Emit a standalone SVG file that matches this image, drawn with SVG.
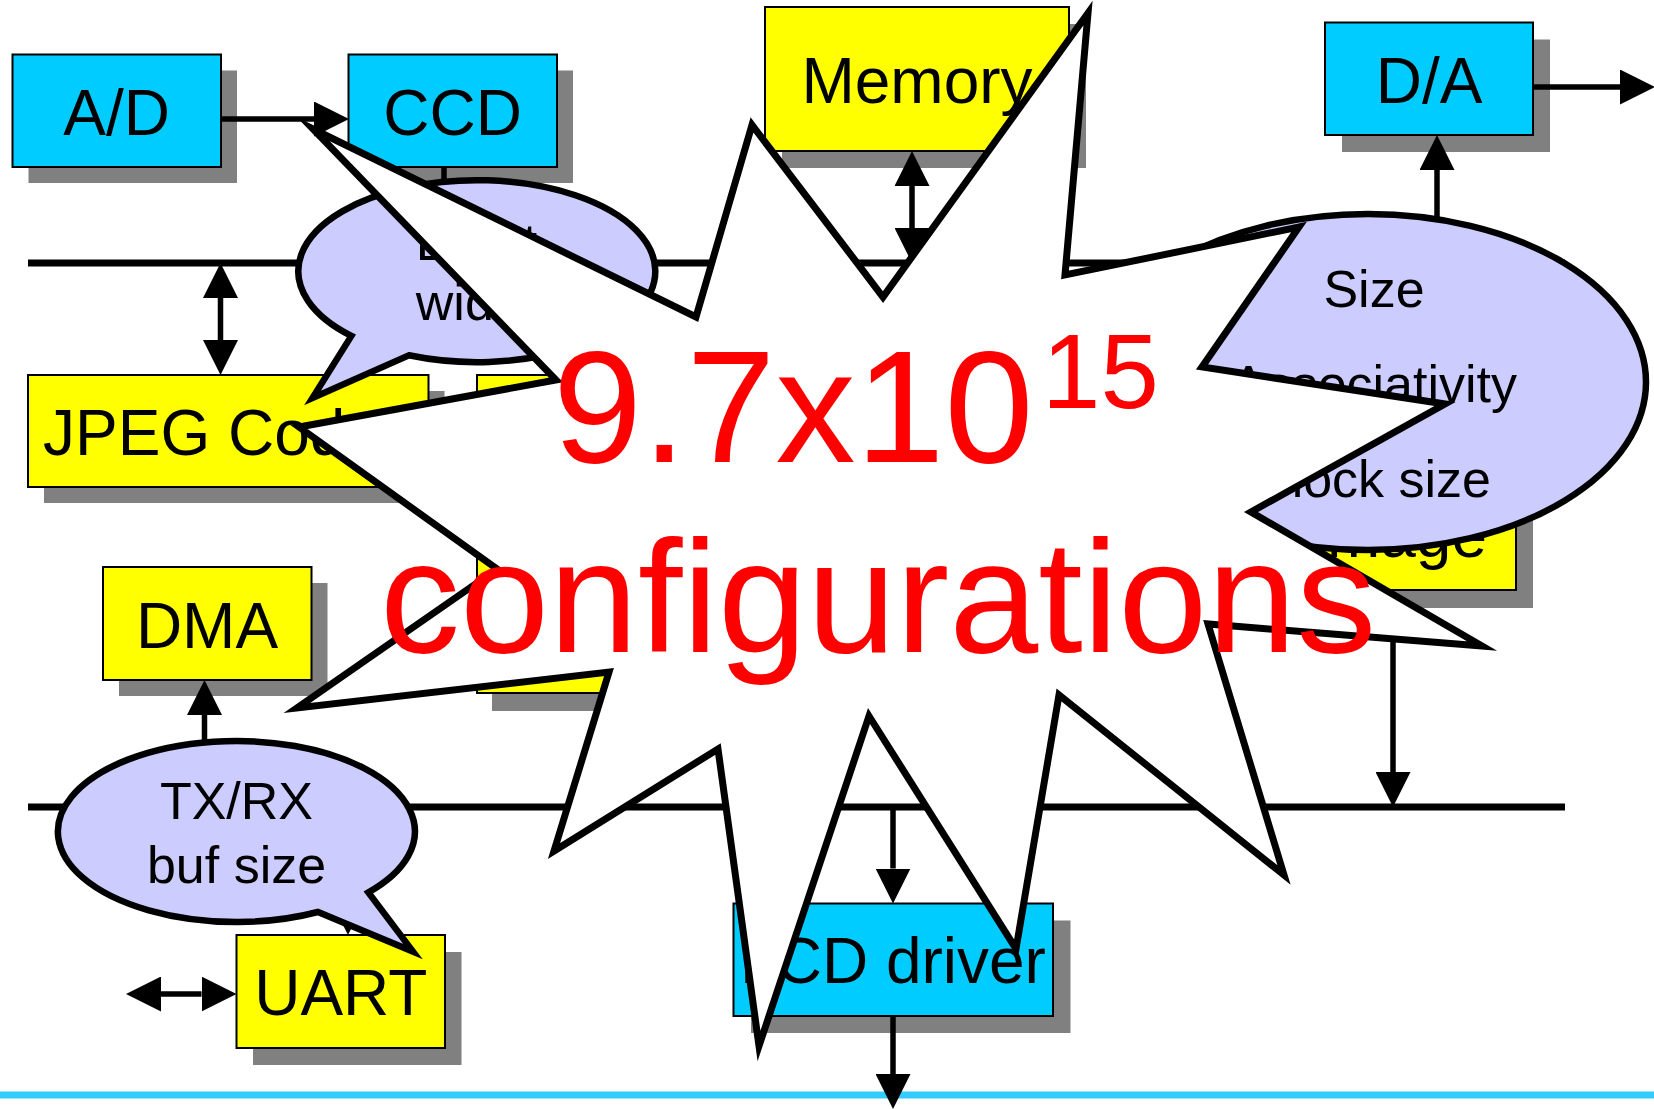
<svg xmlns="http://www.w3.org/2000/svg" width="1654" height="1109" viewBox="0 0 1654 1109">
<style>
  text { font-family: "Liberation Sans", Arial, sans-serif; fill: #000; }
  .lbl { font-size: 64px; text-anchor: middle; }
  .bl { font-size: 52px; text-anchor: middle; }
  .shadow { fill: #808080; }
  .cyan { fill: #00CCFF; stroke: #000; stroke-width: 2; }
  .yel { fill: #FFFF00; stroke: #000; stroke-width: 2; }
  .bus { stroke: #000; stroke-width: 7; fill: none; }
  .ar { stroke: #000; stroke-width: 5.5; fill: none; }
  .bubble { fill: #CCCCFF; stroke: #000; stroke-width: 6.5; stroke-linejoin: miter; }
  .burst { fill: #FFFFFF; stroke: #000; stroke-width: 7; stroke-linejoin: miter; stroke-miterlimit: 20; }
  .big { font-size: 160px; fill: #FF0000; }
</style>
<defs>
  <marker id="ah" viewBox="0 0 35 35" refX="0" refY="17.5" markerWidth="35" markerHeight="35" markerUnits="userSpaceOnUse" orient="auto-start-reverse">
    <path d="M0,0 L35,17.5 L0,35 Z" fill="#000"/>
  </marker>
</defs>
<rect x="0" y="0" width="1654" height="1109" fill="#FFFFFF"/>

<g id="ad">
  <rect class="shadow" x="28.5" y="70.5" width="208.5" height="112.5"/>
  <rect class="cyan" x="12.5" y="54.5" width="208.5" height="112.5"/>
  <text class="lbl" x="116.7" y="135">A/D</text>
</g>
<g id="ccd">
  <rect class="shadow" x="364.5" y="70.5" width="208.5" height="112.5"/>
  <rect class="cyan" x="348.5" y="54.5" width="208.5" height="112.5"/>
  <text class="lbl" x="452.7" y="135">CCD</text>
</g>
<g id="memory">
  <rect class="shadow" x="782" y="24" width="304" height="144"/>
  <rect class="yel" x="765" y="7" width="304" height="144"/>
  <text class="lbl" x="917" y="103">Memory</text>
</g>
<g id="da">
  <rect class="shadow" x="1342" y="39.5" width="208" height="112.5"/>
  <rect class="cyan" x="1325" y="22.5" width="208" height="112.5"/>
  <text class="lbl" x="1429" y="103">D/A</text>
</g>
<g id="jpeg">
  <rect class="shadow" x="44" y="391" width="400.5" height="112"/>
  <rect class="yel" x="28" y="375" width="400.5" height="112"/>
  <text class="lbl" x="228" y="455">JPEG Codec</text>
</g>
<g id="processor">
  <rect class="shadow" x="492" y="391" width="200" height="320"/>
  <rect class="yel" x="477" y="375" width="200" height="318"/>
</g>
<g id="image">
  <rect class="shadow" x="1325" y="496" width="208" height="112"/>
  <rect class="yel" x="1308" y="478" width="208" height="112"/>
  <text class="lbl" x="1487" y="557" style="text-anchor:end">Image</text>
</g>
<g id="dma">
  <rect class="shadow" x="119" y="583" width="208.5" height="113"/>
  <rect class="yel" x="103" y="567" width="208.5" height="113"/>
  <text class="lbl" x="207" y="648">DMA</text>
</g>
<g id="uart">
  <rect class="shadow" x="253" y="952" width="208.5" height="113"/>
  <rect class="yel" x="236.5" y="935" width="208.5" height="113"/>
  <text class="lbl" x="340.7" y="1015">UART</text>
</g>
<g id="lcd">
  <rect class="shadow" x="751" y="920.5" width="319.5" height="112.5"/>
  <rect class="cyan" x="733.5" y="903.5" width="319.5" height="112.5"/>
  <text class="lbl" x="893" y="983">LCD driver</text>
</g>

<g id="connectors">
  <line class="bus" x1="28" y1="263" x2="1565" y2="263"/>
  <line class="bus" x1="28" y1="807" x2="1565" y2="807"/>
  <line x1="0" y1="1095" x2="1654" y2="1095" stroke="#33CCFF" stroke-width="7"/>
  <line class="ar" x1="221" y1="119" x2="314" y2="119" marker-end="url(#ah)"/>
  <line class="ar" x1="444" y1="168" x2="444" y2="263"/>
  <line class="ar" x1="220.5" y1="298" x2="220.5" y2="340" marker-start="url(#ah)" marker-end="url(#ah)"/>
  <line class="ar" x1="912" y1="186" x2="912" y2="228" marker-start="url(#ah)" marker-end="url(#ah)"/>
  <line class="ar" x1="1437" y1="222" x2="1437" y2="170" marker-end="url(#ah)"/>
  <line class="ar" x1="1533" y1="87" x2="1620" y2="87" marker-end="url(#ah)"/>
  <line class="ar" x1="1393" y1="625" x2="1393" y2="772" marker-start="url(#ah)" marker-end="url(#ah)"/>
  <line class="ar" x1="204.5" y1="807" x2="204.5" y2="715" marker-end="url(#ah)"/>
  <line class="ar" x1="348" y1="807" x2="348" y2="900" marker-end="url(#ah)"/>
  <line class="ar" x1="161" y1="994" x2="201.5" y2="994" marker-start="url(#ah)" marker-end="url(#ah)"/>
  <line class="ar" x1="893" y1="807" x2="893" y2="868.5" marker-end="url(#ah)"/>
  <line class="ar" x1="893" y1="1017" x2="893" y2="1074" marker-end="url(#ah)"/>
</g>

<g id="bus-bubble">
  <path class="bubble" d="M408.9,355.3 A178.5,91 0 1 0 351.4,335.9 L312.5,398 Z"/>
  <text class="bl" x="476.5" y="260">Burst</text>
  <text class="bl" x="476.5" y="320">width</text>
</g>
<g id="uart-bubble">
  <path class="bubble" d="M317.9,912 A178.5,90.5 0 1 1 368.4,892.4 L413,951.6 Z"/>
  <text class="bl" x="236.5" y="819">TX/RX</text>
  <text class="bl" x="236.5" y="883">buf size</text>
</g>
<g id="cache-bubble">
  <ellipse class="bubble" cx="1368" cy="382" rx="278" ry="168"/>
  <text class="bl" x="1374" y="307">Size</text>
  <text class="bl" x="1374" y="402">Associativity</text>
  <text class="bl" x="1374" y="497">Block size</text>
</g>

<g id="starburst">
  <polygon class="burst" points="313,129 696,317 752,125 883,297 1088,13 1065,275 1299,227 1202,367 1445,404 1251,512 1482,646 1208,624 1284,875 1059,695 1016,949 869,716 759,1046 718,749 554,851 609,672 297,708 497,569 299,427 556,380"/>
  <text class="big" x="553" y="461.5">9.7x10<tspan x="1042" y="408" style="font-size:105px">15</tspan></text>
  <text class="big" x="380" y="652">configurations</text>
</g>
</svg>
